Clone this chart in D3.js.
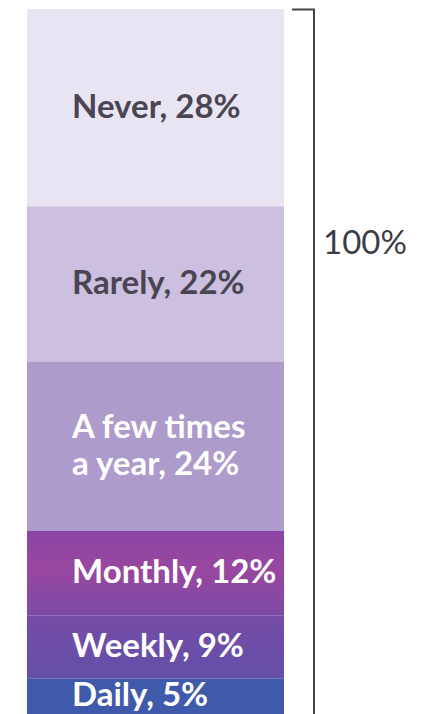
<!DOCTYPE html>
<html>
<head>
<meta charset="utf-8">
<script src="https://cdn.jsdelivr.net/npm/d3@7"></script>
<style>
  html, body { margin: 0; padding: 0; background: #fff; }
  svg { display: block; font-family: Lato, "Open Sans", sans-serif; }
</style>
</head>
<body>
<svg id="chart"></svg>
<script>
// frequency categories, from top of the bar to the bottom
const categories = ["Never", "Rarely", "A few times a year", "Monthly", "Weekly", "Daily"];
const labelLines = [["Never, 28%"], ["Rarely, 22%"], ["A few times", "a year, 24%"], ["Monthly, 12%"], ["Weekly, 9%"], ["Daily, 5%"]];
const shares = [28, 22, 24, 12, 9, 5];
const totalLabel = "100%";

const colors = ["#e9e4f2", "#cdbfdf", "#ad9bcb", "#9146a3", "#6a4fa8", "#3f5aaa"];
const textColors = ["#4a4552", "#4a4552", "#ffffff", "#ffffff", "#ffffff", "#ffffff"];

(function () {
    const width = 431, height = 714;
    const svg = d3.select("#chart").attr("width", width).attr("height", height);

    // stack the shares top-down
    let acc = 0;
    const segs = shares.map((v, i) => {
        const s = { key: categories[i], start: acc, end: acc + v, i: i };
        acc += v;
        return s;
    });

    const y = d3.scaleLinear().domain([0, 100]).range([9, 714]);
    const x0 = 27, x1 = 284;

    const defs = svg.append("defs");
    // monthly and weekly blocks fade a bit into each other
    const gM = defs.append("linearGradient").attr("id", "gMonthly").attr("x1", 0).attr("y1", 0).attr("x2", 0).attr("y2", 1);
    gM.append("stop").attr("offset", "0%").attr("stop-color", "#8a45a4");
    gM.append("stop").attr("offset", "45%").attr("stop-color", "#9947a0");
    gM.append("stop").attr("offset", "100%").attr("stop-color", "#7c4aa6");
    const gW = defs.append("linearGradient").attr("id", "gWeekly").attr("x1", 0).attr("y1", 0).attr("x2", 0).attr("y2", 1);
    gW.append("stop").attr("offset", "0%").attr("stop-color", "#744ca7");
    gW.append("stop").attr("offset", "100%").attr("stop-color", "#644fa9");

    const fillFor = d => d.key === "Monthly" ? "url(#gMonthly)" : d.key === "Weekly" ? "url(#gWeekly)" : colors[d.i];

    svg.selectAll("rect.seg")
        .data(segs)
        .enter()
        .append("rect")
        .attr("class", "seg")
        .attr("x", x0)
        .attr("width", x1 - x0)
        .attr("y", d => y(d.start))
        .attr("height", d => y(d.end) - y(d.start))
        .style("fill", fillFor);

    const fs = 33, lh = 37;
    const labels = svg.selectAll("text.lab")
        .data(segs)
        .enter()
        .append("text")
        .attr("class", "lab")
        .attr("x", 72)
        .attr("y", d => (y(d.start) + y(d.end)) / 2 - (labelLines[d.i].length - 1) * lh / 2 - 3)
        .attr("dominant-baseline", "central")
        .style("font-size", fs + "px")
        .style("font-weight", 700)
        .style("fill", d => textColors[d.i]);

    labels.selectAll("tspan")
        .data(d => labelLines[d.i])
        .enter()
        .append("tspan")
        .attr("x", 72)
        .attr("dy", (d, j) => j === 0 ? 0 : lh)
        .text(d => d);

    // bracket spanning the whole bar
    const bx = 314;
    svg.append("path")
        .attr("d", `M292,${y(0) + 0.5}H${bx}V${y(100)}`)
        .style("fill", "none")
        .style("stroke", "#444")
        .style("stroke-width", 2);

    svg.append("text")
        .attr("x", 323)
        .attr("y", 254)
        .style("font-size", "33px")
        .style("fill", "#3b3d46")
        .text(totalLabel);
})();
</script>
</body>
</html>
